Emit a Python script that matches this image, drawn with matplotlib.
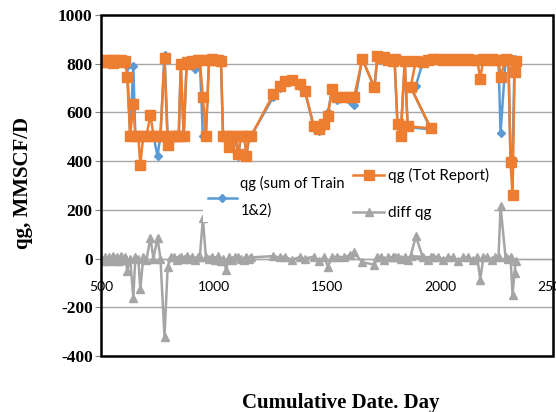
import matplotlib.pyplot as plt
from matplotlib.patches import Rectangle

plt.rcParams['axes.unicode_minus'] = False

# cumulative day (x) shared by the three series
days = [500, 509, 518, 527, 536, 545, 554, 562, 571, 580, 589, 598, 607, 616, 629,
        643, 652, 665, 674, 687, 701, 719, 732, 750, 763, 781, 795, 808, 821, 835,
        844, 853, 866, 879, 888, 902, 915, 929, 937, 951, 964, 978, 991, 1004, 1018,
        1031, 1040, 1054, 1067, 1080, 1094, 1107, 1120, 1134, 1143, 1156, 1165, 1263,
        1290, 1312, 1344, 1379, 1402, 1442, 1464, 1487, 1504, 1522, 1545, 1576, 1603,
        1620, 1656, 1710, 1723, 1737, 1754, 1772, 1790, 1799, 1812, 1826, 1844, 1857,
        1960, 1870, 1893, 1924, 1946, 1969, 1991, 2013, 2036, 2058, 2080, 2103, 2125,
        2147, 2165, 2178, 2192, 2210, 2228, 2245, 2259, 2268, 2290, 2303, 2312, 2321,
        2330, 2335]

qg_tot = [805, 812, 815, 808, 812, 815, 802, 815, 810, 812, 815, 808, 812, 745, 505,
          635, 505, 505, 385, 505, 505, 590, 505, 505, 505, 825, 465, 505, 505, 505,
          505, 800, 505, 805, 800, 810, 805, 815, 815, 662, 502, 815, 820, 815, 815,
          810, 505, 505, 460, 505, 505, 430, 505, 505, 420, 505, 505, 675,
          708, 729, 733, 716, 690, 543, 531, 552, 585, 696, 663, 663, 663,
          663, 819, 704, 832, 825, 827, 815, 811, 819, 552, 503, 811, 543,
          535, 704, 811, 807, 815, 819, 819, 815, 819, 815, 819, 815, 818,
          815, 815, 737, 819, 815, 819, 815, 815, 745, 819, 815, 395, 259,
          766, 811]

qg_sum = [800, 810, 812, 808, 815, 810, 805, 812, 808, 815, 812, 805, 815, 790, 505,
          790, 500, 505, 505, 505, 500, 505, 505, 420, 505, 835, 505, 505, 500, 505,
          505, 795, 505, 800, 795, 805, 780, 810, 815, 502, 502, 810, 815, 812, 808,
          805, 505, 505, 460, 505, 505, 420, 505, 505, 420, 505, 505, 665,
          700, 725, 730, 710, 690, 535, 525, 545, 600, 690, 650, 660, 645,
          630, 820, 700, 830, 820, 825, 812, 808, 812, 550, 500, 808, 540,
          530, 705, 710, 805, 812, 815, 818, 812, 815, 810, 815, 812, 815,
          812, 810, 815, 815, 812, 815, 810, 812, 515, 815, 812, 400, 405,
          820, 815]

diff_qg = [0, -8, 5, -10, 8, -5, 10, -12, 6, -8, 10, -5, 8, -50, 0,
           -160, 5, 0, -125, 5, -5, 85, 0, 85, 0, -320, -35, 5, 8, -5,
           3, 5, 0, 10, -3, 8, -5, 6, 5, 165, 5, 0, 8, -5, 10,
           -8, 0, -45, 5, -5, 8, 5, 0, -5, 6, 0, 5, 10,
           5, 8, -5, 6, 0, 8, -10, 5, -33, 5, 8, 5, 15,
           25, -15, -25, 5, 8, -5, 5, 6, 8, 5, 0, 5, -5,
           5, 10, 92, 5, -5, 5, 8, -5, 6, 5, -8, 5, 6,
           -5, 5, -86, 5, 8, -5, 5, 8, 214, 5, 0, 5, -148,
           -58, -10]

blue = '#5B9BD5'
orange = '#ED7D31'
gray = '#A5A5A5'

fig = plt.figure(figsize=(5.56, 4.12), dpi=100)
ax = fig.add_axes([101 / 556, 1 - 356 / 412, 452 / 556, 341 / 412])

l1, = ax.plot(days, qg_sum, color=blue, lw=1.8, marker='D', ms=4,
              label='qg (sum of Train\n1&2)')
l2, = ax.plot(days, qg_tot, color=orange, lw=1.8, marker='s', ms=6.5,
              label='qg (Tot Report)')
l3, = ax.plot(days, diff_qg, color=gray, lw=1.8, marker='^', ms=5.5,
              label='diff qg')

ax.set_xlim(500, 2500)
ax.set_ylim(-400, 1000)
ax.set_xticks([500, 1000, 1500, 2000, 2500])
ax.set_yticks(range(-400, 1001, 200))
ax.grid(axis='y', color='#A6A6A6', lw=1.0)
ax.set_axisbelow(True)

for s in ['left', 'right', 'top']:
    ax.spines[s].set_visible(False)
ax.spines['bottom'].set_position(('data', 0))
ax.spines['bottom'].set_color('#A6A6A6')
ax.spines['bottom'].set_linewidth(1.0)
ax.add_patch(Rectangle((0, 0), 1, 1, transform=ax.transAxes, fill=False,
                       lw=1.8, ec='black', clip_on=False, zorder=5))

ax.tick_params(axis='x', length=0, pad=16, labelsize=10, labelfontfamily='Lato')
ax.tick_params(axis='y', length=4, color='#808080', pad=2, labelsize=12.5)
for t in ax.get_yticklabels():
    t.set_fontfamily('Liberation Serif')
    t.set_fontweight('bold')

leg1 = ax.legend(handles=[l1], loc='upper left', bbox_to_anchor=(0.226, 0.54),
                 frameon=True, facecolor='white', edgecolor='none', framealpha=1,
                 fancybox=False, prop={'family': 'Lato', 'size': 10.5},
                 handlelength=2.0, handletextpad=0.25, borderpad=0.3,
                 borderaxespad=0)
for t in leg1.get_texts():
    t.set_linespacing(2.1)
ax.add_artist(leg1)
ax.legend(handles=[l2, l3], loc='upper left', bbox_to_anchor=(0.548, 0.565),
          frameon=True, facecolor='white', edgecolor='none', framealpha=1,
          fancybox=False, prop={'family': 'Lato', 'size': 11},
          handlelength=2.0, handletextpad=0.3, borderpad=0.3,
          labelspacing=1.5, borderaxespad=0)

fig.text(23 / 556, 1 - 183 / 412, 'qg, MMSCF/D', rotation=90, ha='center',
         va='center', family='Liberation Serif', weight='bold', size=15)
fig.text(341 / 556, 1 - 403 / 412, 'Cumulative Date. Day', ha='center',
         va='center', family='Liberation Serif', weight='bold', size=15)

plt.savefig('out.png', dpi=100)
